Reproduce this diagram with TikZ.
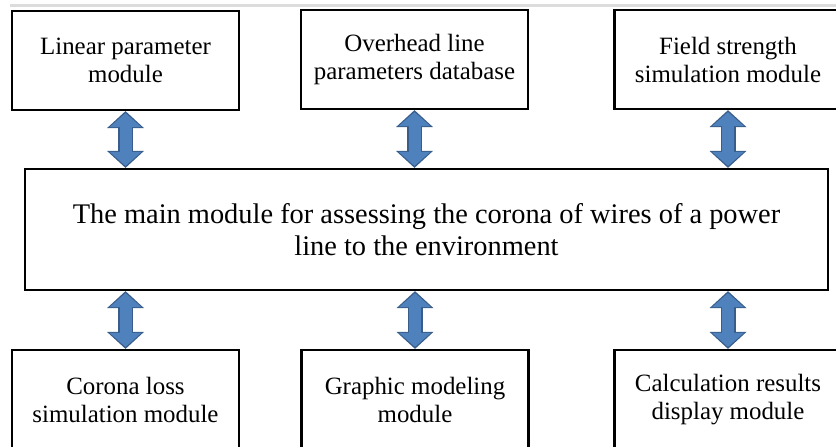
\documentclass[tikz,border=0pt]{standalone}
\usepackage{fontspec}
\setmainfont{Liberation Serif}
\usetikzlibrary{arrows.meta,positioning}
\definecolor{arrowfill}{HTML}{4F81BD}
\definecolor{arrowedge}{HTML}{385D8A}
\definecolor{rulegray}{HTML}{DCDCDC}

\begin{document}
\begin{tikzpicture}[x=1pt,y=-1pt,
  module/.style={draw,line width=2.2pt,minimum width=227pt,minimum height=99pt,
    inner sep=0pt,align=center,font=\fontsize{24.9}{28}\selectfont},
  mainbox/.style={draw,line width=2.2pt,minimum width=803pt,minimum height=121pt,
    inner sep=0pt,align=center,font=\fontsize{28.4}{32}\selectfont},
  linkedge/.style={arrowedge,line width=15pt,
    {Triangle[width=36pt,length=17pt]}-{Triangle[width=36pt,length=17pt]}},
  linkbody/.style={arrowfill,line width=12pt,
    {Triangle[width=31pt,length=14pt]}-{Triangle[width=31pt,length=14pt]},
    shorten <=2pt,shorten >=2pt}]
  \useasboundingbox (0,0) rectangle (836,447);

  % Thin rule on top
  \draw[rulegray,line width=3pt] (10,5.5) -- (836,5.5);

  % Upper modules
  \node[module] (linpar) at (125.5,60.5) {Linear parameter\\module};
  \node[module] (ovhdb) at (414.5,59.5) {Overhead line\\parameters database};
  \node[module] (fldsim) at (728,59.5) {Field strength\\simulation module};

  % Main module
  \node[mainbox] (core) at (426.5,229.5)
    {The main module for assessing the corona of wires of a power\\line to the environment};

  % Lower modules
  \node[module] (corloss) at (125.5,399.5) {Corona loss\\simulation module};
  \node[module] (graphmod) at (415,399.5) {Graphic modeling\\module};
  \node[module] (calcres) at (728,399.5) {Calculation results\\display module};

  % Two-way links
  \foreach \m in {linpar,ovhdb,fldsim} {
    \draw[linkedge] (\m.south) -- (\m.south |- core.north);
    \draw[linkbody] (\m.south) -- (\m.south |- core.north);
  }
  \foreach \m in {corloss,graphmod,calcres} {
    \draw[linkedge] (\m.north |- core.south) -- (\m.north);
    \draw[linkbody] (\m.north |- core.south) -- (\m.north);
  }
\end{tikzpicture}
\end{document}
